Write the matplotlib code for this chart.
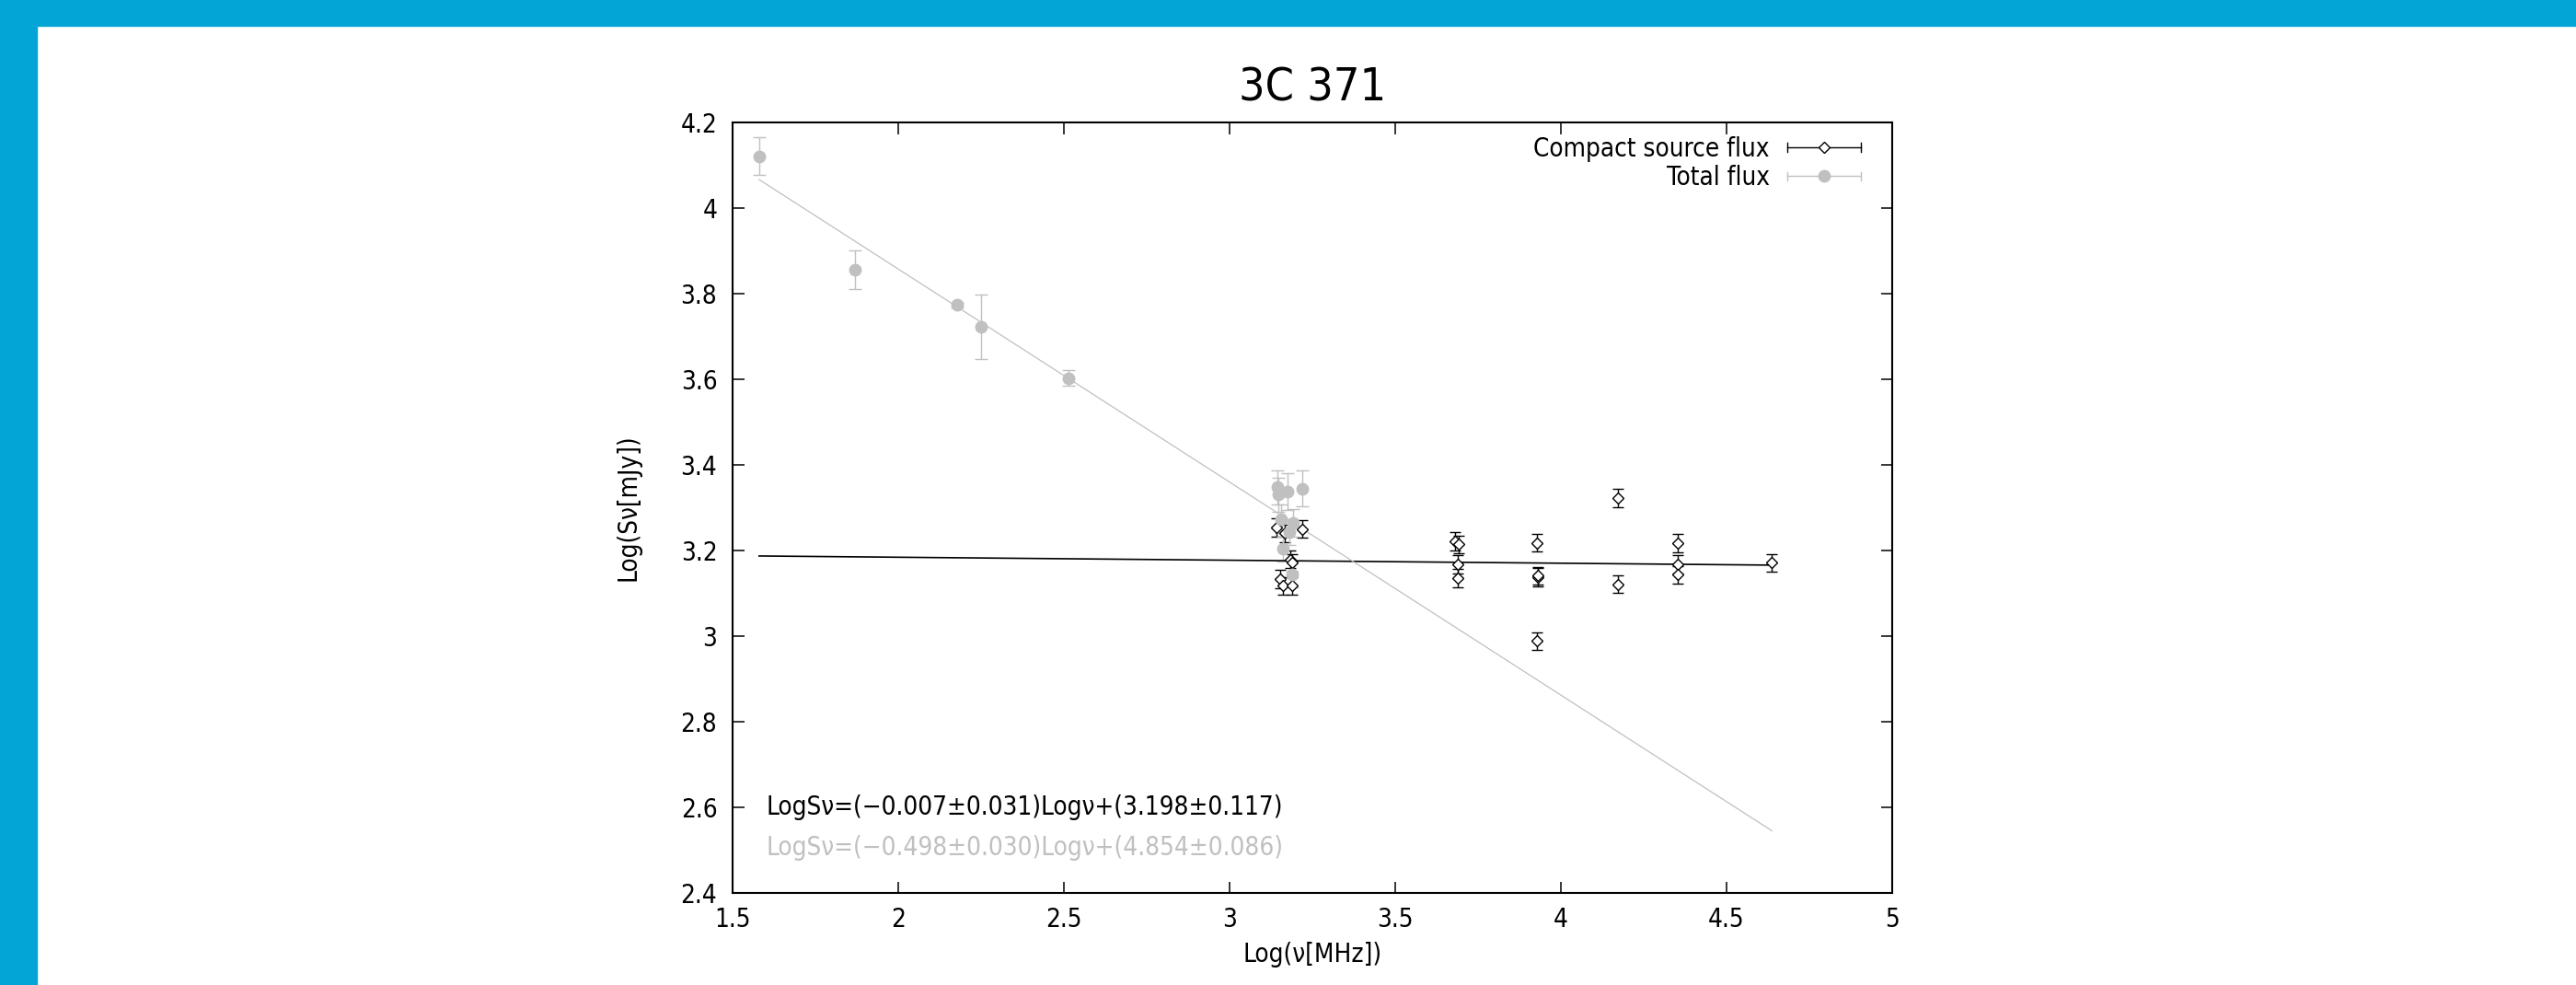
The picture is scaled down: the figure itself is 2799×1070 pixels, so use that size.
import numpy as np
import matplotlib
matplotlib.use("Agg")
import matplotlib.pyplot as plt
from matplotlib.lines import Line2D
from matplotlib.patches import Rectangle
from matplotlib.legend_handler import HandlerBase

plt.rcParams['font.family'] = ['DejaVu Sans Condensed', 'DejaVu Sans']
plt.rcParams['font.stretch'] = 'condensed'

# total flux (grey circles)
nu_tot = [1.580, 1.869, 2.179, 2.251, 2.514, 3.1445, 3.147, 3.175, 3.221,
          3.155, 3.191, 3.182, 3.162, 3.189]
s_tot = [4.122, 3.856, 3.774, 3.723, 3.603, 3.348, 3.330, 3.338, 3.344,
         3.274, 3.265, 3.242, 3.203, 3.143]
e_tot = [0.044, 0.045, 0.005, 0.076, 0.018, 0.040, 0.040, 0.043, 0.042,
         0.034, 0.032, 0.030, 0.030, 0.030]

# compact source flux (open diamonds)
nu_cmp = [3.141, 3.168, 3.221, 3.185, 3.189, 3.154, 3.161, 3.189,
          3.680, 3.692, 3.689, 3.689, 3.928, 3.930, 3.930, 3.928,
          4.174, 4.174, 4.354, 4.354, 4.354, 4.638]
s_cmp = [3.254, 3.240, 3.250, 3.179, 3.171, 3.133, 3.117, 3.117,
         3.2215, 3.214, 3.168, 3.135, 3.218, 3.137, 3.141, 2.988,
         3.322, 3.121, 3.217, 3.168, 3.143, 3.171]
e_cmp = [0.021] * len(nu_cmp)

# linear fits  (slope, intercept)
fit_cmp = (-0.007, 3.198)
fit_tot = (-0.498, 4.854)
fit_range = [1.58, 4.638]

eq_cmp = "LogS\u03bd=(\u22120.007\u00b10.031)Log\u03bd+(3.198\u00b10.117)"
eq_tot = "LogS\u03bd=(\u22120.498\u00b10.030)Log\u03bd+(4.854\u00b10.086)"

grey = '#c0c0c0'
blue = '#02a5d6'


class HBarHandler(HandlerBase):
    # gnuplot style key sample: horizontal bar with end caps and marker
    def create_artists(self, legend, orig, xdescent, ydescent, width, height,
                       fontsize, trans):
        y = height / 2 - ydescent
        x0, x1 = -xdescent, width - xdescent
        c = orig.get_color()
        lw = orig.get_linewidth()
        arts = [Line2D([x0, x1], [y, y], color=c, lw=lw),
                Line2D([x0, x0], [y - 3.5, y + 3.5], color=c, lw=lw),
                Line2D([x1, x1], [y - 3.5, y + 3.5], color=c, lw=lw),
                Line2D([(x0 + x1) / 2], [y], marker=orig.get_marker(),
                       ms=orig.get_markersize(), mfc=orig.get_markerfacecolor(),
                       mec=orig.get_markeredgecolor(), mew=orig.get_markeredgewidth(),
                       ls='none')]
        for a in arts:
            a.set_transform(trans)
        return arts


fig = plt.figure(figsize=(27.99, 10.7), dpi=100)
fig.patches.append(Rectangle((0, 1 - 28 / 1070), 1, 28 / 1070, transform=fig.transFigure,
                             color=blue, zorder=-1))
fig.patches.append(Rectangle((0, 0), 40 / 2799, 1, transform=fig.transFigure,
                             color=blue, zorder=-1))

ax = fig.add_axes([0.2844, 0.0939, 0.4500, 0.7815])

ax.errorbar(nu_cmp, s_cmp, yerr=e_cmp, fmt='D', ms=6.6, mfc='white', mec='black',
            mew=1.0, ecolor='black', elinewidth=1.0, capsize=4.6, capthick=1.0)
ax.errorbar(nu_tot, s_tot, yerr=e_tot, fmt='o', ms=9, color=grey,
            ecolor=grey, elinewidth=1.0, capsize=4.8, capthick=1.0)

xf = np.array(fit_range)
ax.plot(xf, fit_cmp[0] * xf + fit_cmp[1], color='black', lw=1.2)
ax.plot(xf, fit_tot[0] * xf + fit_tot[1], color=grey, lw=0.9)

ax.set_xlim(1.5, 5)
ax.set_ylim(2.4, 4.2)
ax.set_xticks([1.5, 2, 2.5, 3, 3.5, 4, 4.5, 5])
ax.set_xticklabels(['1.5', '2', '2.5', '3', '3.5', '4', '4.5', '5'])
ax.set_yticks([2.4, 2.6, 2.8, 3, 3.2, 3.4, 3.6, 3.8, 4, 4.2])
ax.set_yticklabels(['2.4', '2.6', '2.8', '3', '3.2', '3.4', '3.6', '3.8', '4', '4.2'])
ax.tick_params(direction='in', length=9, width=1.1, top=True, right=True,
               labelsize=20)
ax.tick_params(axis='x', pad=11)
ax.tick_params(axis='y', pad=12)
for sp in ax.spines.values():
    sp.set_linewidth(1.5)

ax.set_title('3C 371', fontsize=36, pad=17)
ax.set_xlabel('Log(\u03bd[MHz])', fontsize=20)
ax.set_ylabel('Log(S\u03bd[mJy])', fontsize=20)
ax.xaxis.set_label_coords(0.5, -0.064)
ax.yaxis.set_label_coords(-0.079, 0.5)

ax.text(0.029, 0.111, eq_cmp, transform=ax.transAxes, fontsize=20, color='black',
        va='center', ha='left')
ax.text(0.029, 0.058, eq_tot, transform=ax.transAxes, fontsize=20, color=grey,
        va='center', ha='left')

h_cmp = Line2D([], [], color='black', lw=1.0, marker='D', ms=6.6, mfc='white',
               mec='black', mew=1.0)
h_tot = Line2D([], [], color=grey, lw=1.0, marker='o', ms=9, mfc=grey, mec=grey)
ax.legend([h_cmp, h_tot], ['Compact source flux', 'Total flux'], loc='upper right',
          bbox_to_anchor=(0.9733, 0.983), frameon=False, markerfirst=False,
          fontsize=20, handlelength=2.88, handletextpad=0.7, labelspacing=0.13,
          borderpad=0.0, borderaxespad=0.0,
          handler_map={Line2D: HBarHandler()})

fig.savefig('out.png', dpi=100)
